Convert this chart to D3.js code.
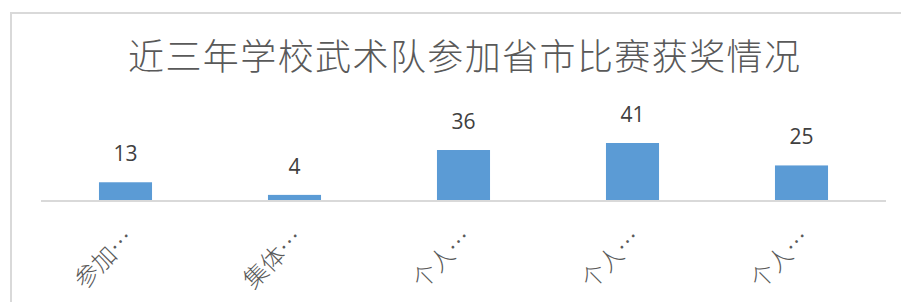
<!DOCTYPE html>
<html>
<head>
<meta charset="utf-8">
<script src="https://cdn.jsdelivr.net/npm/d3@7"></script>
<style>
  body { margin: 0; background: #fff; }
  svg { display: block; }
</style>
</head>
<body>
<svg width="901" height="302"></svg>
<script>
const title = "近三年学校武术队参加省市比赛获奖情况";
const categories = ["参加…", "集体…", "个人…", "个人…", "个人…"];
const values = [13, 4, 36, 41, 25];

const svg = d3.select("svg");
const width = +svg.attr("width");
const height = +svg.attr("height");

// chart frame (only top and left edges show in the crop)
svg.append("rect")
    .attr("x", 11)
    .attr("y", 13)
    .attr("width", 910)
    .attr("height", 320)
    .attr("fill", "#fff")
    .attr("stroke", "#d9d9d9")
    .attr("stroke-width", 2)

svg.append("text")
    .attr("x", 464)
    .attr("y", 70)
    .attr("text-anchor", "middle")
    .attr("textLength", 672)
    .attr("lengthAdjust", "spacing")
    .style("font-family", "'Noto Sans CJK SC', sans-serif")
    .style("font-weight", 300)
    .style("font-size", "36px")
    .attr("fill", "#595959")
    .text(title)

const x = d3.scaleBand()
    .domain(d3.range(categories.length))
    .range([41, 886])
    .paddingInner(0.686)
    .paddingOuter(0.343)

const y = d3.scaleLinear()
    .domain([0, 41])
    .range([200.5, 143])

const g = svg.append("g")

g.selectAll("rect.bar").data(values)
  .enter().append("rect")
    .attr("class", "bar")
    .attr("x", (d, i) => x(i))
    .attr("y", d => y(d))
    .attr("width", x.bandwidth())
    .attr("height", d => y(0) - y(d))
    .attr("fill", "#5b9bd5")

// baseline
g.append("line")
    .attr("x1", 41)
    .attr("x2", 886)
    .attr("y1", y(0) + 0.5)
    .attr("y2", y(0) + 0.5)
    .attr("stroke", "#d9d9d9")
    .attr("stroke-width", 2)

g.selectAll("text.val").data(values)
  .enter().append("text")
    .attr("class", "val")
    .attr("x", (d, i) => x(i) + x.bandwidth() / 2)
    .attr("y", d => y(d) - 21)
    .attr("text-anchor", "middle")
    .style("font-family", "'Open Sans', 'Noto Sans', sans-serif")
    .style("font-size", "21px")
    .attr("fill", "#404040")
    .text(d => d)

const xAxis = d3.axisBottom(x).tickSize(0).tickFormat(i => categories[i])

const ax = svg.append("g")
    .attr("transform", `translate(0, ${y(0)})`)
    .call(xAxis)

ax.select(".domain").remove()

ax.selectAll(".tick text")
    .attr("transform", "translate(4, 33) rotate(-45)")
    .attr("x", 0)
    .attr("y", 0)
    .attr("dy", "0.35em")
    .attr("text-anchor", "end")
    .style("font-family", "'Noto Sans CJK SC', sans-serif")
    .style("font-weight", 300)
    .style("font-size", "24px")
    .attr("fill", "#595959")
</script>
</body>
</html>
